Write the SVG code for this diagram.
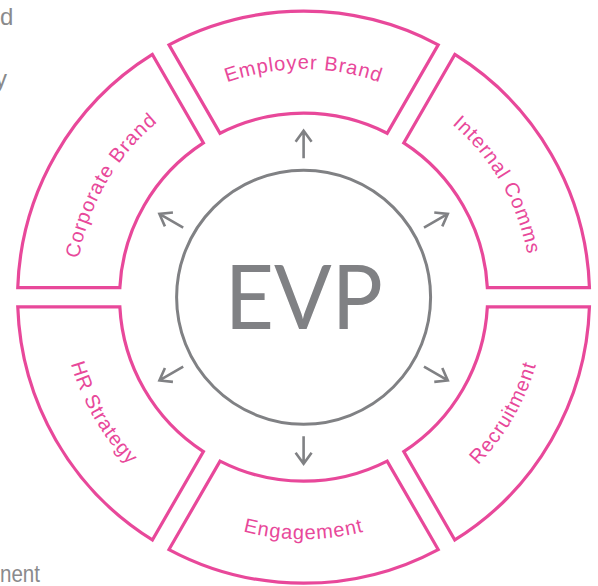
<svg xmlns="http://www.w3.org/2000/svg" xmlns:xlink="http://www.w3.org/1999/xlink" width="598" height="586" viewBox="0 0 598 586">
  <style>
    .seg { fill: #ffffff; stroke: #E8489A; stroke-width: 3.2; stroke-linejoin: miter; }
    .lbl { fill: #E8489A; font-family: "Liberation Sans", Arial, sans-serif; font-size: 20px; letter-spacing: 0.9px; }
    .arr { fill: none; stroke: #808184; stroke-width: 2.6; }
    .core { fill: #ffffff; stroke: #808184; stroke-width: 3; }
    .side { fill: #8a8a8c; font-family: "Liberation Sans", Arial, sans-serif; font-size: 24px; }
  </style>
  <defs>
    <!-- baseline arcs for the ring labels (centre 303.6, 297.2) -->
    <path id="tp-employer" d="M 106.15 183.2 A 228 228 0 0 1 501.05 183.2"/>
    <path id="tp-internal" d="M 303.6 69.2 A 228 228 0 0 1 501.05 411.2"/>
    <path id="tp-corporate" d="M 106.15 411.2 A 228 228 0 0 1 303.6 69.2"/>
    <path id="tp-engagement" d="M 94.02 418.2 A 242 242 0 0 0 513.18 418.2"/>
    <path id="tp-recruitment" d="M 303.6 539.2 A 242 242 0 0 0 513.18 176.2"/>
    <path id="tp-hr" d="M 94.02 176.2 A 242 242 0 0 0 303.6 539.2"/>
    <!-- outward arrow pointing up from the core -->
    <path id="arrow" d="M 0 -139 V -166 M -8 -155.5 L 0 -166.5 L 8 -155.5"/>
  </defs>

  <rect width="598" height="586" fill="#ffffff"/>

  <!-- text running in from the left margin -->
  <text class="side" x="0" y="25" font-size="25">d</text>
  <text class="side" x="7" y="87" text-anchor="end">Strategy</text>
  <text class="side" x="0" y="581.5" font-size="23" textLength="40" lengthAdjust="spacingAndGlyphs">nent</text>

  <g id="employer-brand">
    <path class="seg" d="M 438.21 44.86 A 286 286 0 0 0 168.99 44.86 L 220.04 133.27 A 184 184 0 0 1 387.16 133.27 Z"/>
    <text class="lbl"><textPath href="#tp-employer" startOffset="50%" text-anchor="middle">Employer Brand</textPath></text>
  </g>

  <g id="internal-comms">
    <path class="seg" d="M 589.44 287.6 A 286 286 0 0 0 454.83 54.45 L 403.78 142.86 A 184 184 0 0 1 487.35 287.6 Z"/>
    <text class="lbl"><textPath href="#tp-internal" startOffset="50%" text-anchor="middle">Internal Comms</textPath></text>
  </g>

  <g id="recruitment">
    <path class="seg" d="M 454.83 539.95 A 286 286 0 0 0 589.44 306.8 L 487.35 306.8 A 184 184 0 0 1 403.78 451.54 Z"/>
    <text class="lbl"><textPath href="#tp-recruitment" startOffset="50%" text-anchor="middle">Recruitment</textPath></text>
  </g>

  <g id="engagement">
    <path class="seg" d="M 168.99 549.54 A 286 286 0 0 0 438.21 549.54 L 387.16 461.13 A 184 184 0 0 1 220.04 461.13 Z"/>
    <text class="lbl"><textPath href="#tp-engagement" startOffset="50%" text-anchor="middle">Engagement</textPath></text>
  </g>

  <g id="hr-strategy">
    <path class="seg" d="M 17.76 306.8 A 286 286 0 0 0 152.37 539.95 L 203.42 451.54 A 184 184 0 0 1 119.85 306.8 Z"/>
    <text class="lbl"><textPath href="#tp-hr" startOffset="50%" text-anchor="middle">HR Strategy</textPath></text>
  </g>

  <g id="corporate-brand">
    <path class="seg" d="M 152.37 54.45 A 286 286 0 0 0 17.76 287.6 L 119.85 287.6 A 184 184 0 0 1 203.42 142.86 Z"/>
    <text class="lbl"><textPath href="#tp-corporate" startOffset="50%" text-anchor="middle">Corporate Brand</textPath></text>
  </g>

  <g id="evp">
    <circle class="core" cx="303.6" cy="297.2" r="127"/>
    <text x="303.8" y="329.3" text-anchor="middle" fill="#808184" font-family="Lato, 'Liberation Sans', sans-serif" font-size="89" textLength="158" lengthAdjust="spacingAndGlyphs">EVP</text>
  </g>

  <g id="connectors" class="arr">
    <use href="#arrow" transform="translate(303.6 297.2) rotate(0)"/>
    <use href="#arrow" transform="translate(303.6 297.2) rotate(60)"/>
    <use href="#arrow" transform="translate(303.6 297.2) rotate(120)"/>
    <use href="#arrow" transform="translate(303.6 297.2) rotate(180)"/>
    <use href="#arrow" transform="translate(303.6 297.2) rotate(240)"/>
    <use href="#arrow" transform="translate(303.6 297.2) rotate(300)"/>
  </g>
</svg>
